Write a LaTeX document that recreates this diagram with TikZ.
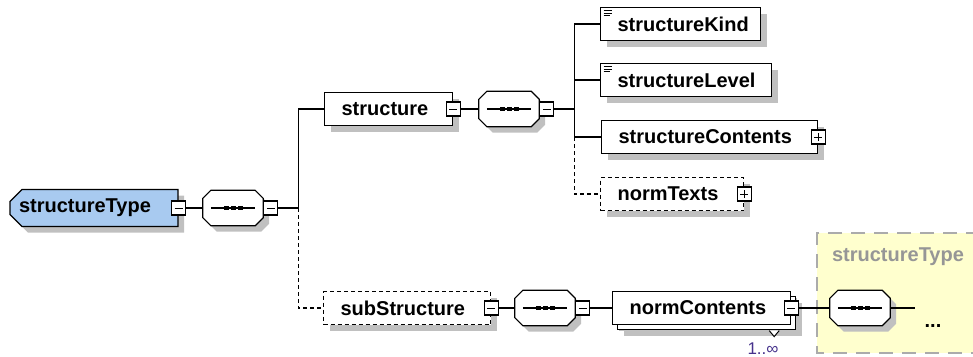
\documentclass[tikz,border=0pt]{standalone}
\usepackage{fontspec}
\setmainfont{Liberation Sans}
\usetikzlibrary{shapes.misc,shadows}

\definecolor{typeblue}{RGB}{168,202,240}
\definecolor{groupyellow}{RGB}{255,255,206}
\definecolor{shadowgray}{RGB}{192,192,192}
\definecolor{groupgray}{RGB}{150,150,150}
\definecolor{occurpurple}{RGB}{70,50,140}

\tikzset{
  boxshadow/.style={drop shadow={shadow xshift=6pt,shadow yshift=-6pt,fill=shadowgray,opacity=1}},
  elem/.style={boxshadow,draw,fill=white,line width=1.2pt,minimum height=33pt,
    inner xsep=17pt,inner ysep=0pt,align=left,anchor=west,
    font=\fontsize{20}{24}\selectfont\bfseries},
  optelem/.style={elem,dash pattern=on 4pt off 3pt},
  simpleicon/.style={path picture={
    \draw[line width=1pt] ([shift={(3pt,-3pt)}]path picture bounding box.north west) -- ++(8pt,0pt);
    \draw[line width=1pt] ([shift={(3pt,-5.5pt)}]path picture bounding box.north west) -- ++(8pt,0pt);
    \draw[line width=1pt] ([shift={(3pt,-8pt)}]path picture bounding box.north west) -- ++(6pt,0pt);}},
  seqbox/.style={rectangle,minimum width=60pt,minimum height=35pt,inner sep=0pt},
  minusbox/.style={draw,fill=white,line width=1.2pt,minimum size=14pt,inner sep=0pt,
    path picture={\draw[line width=1pt] ([xshift=3pt]path picture bounding box.west) -- ([xshift=-3pt]path picture bounding box.east);}},
  plusbox/.style={minusbox,
    path picture={\draw[line width=1pt] ([xshift=3pt]path picture bounding box.west) -- ([xshift=-3pt]path picture bounding box.east);
      \draw[line width=1pt] ([yshift=3pt]path picture bounding box.south) -- ([yshift=-3pt]path picture bounding box.north);}},
  conn/.style={line width=1.2pt},
  optconn/.style={line width=1.2pt,dash pattern=on 4pt off 3pt}
}

% octagon of a sequence compositor, drawn round a seqbox node
\newcommand\octagon[2]{%
  \path[#2] ([xshift=8pt]#1.north west) -- ([xshift=-8pt]#1.north east) -- ([yshift=-8pt]#1.north east)
    -- ([yshift=8pt]#1.south east) -- ([xshift=-8pt]#1.south east) -- ([xshift=8pt]#1.south west)
    -- ([yshift=8pt]#1.south west) -- ([yshift=-8pt]#1.north west) -- cycle;}
\newcommand\seqoct[1]{%
  \octagon{#1}{fill=shadowgray,transform canvas={shift={(6pt,-6pt)}}}
  \octagon{#1}{draw,fill=white,line width=1.2pt}
  \draw[line width=1.2pt] ([xshift=8pt]#1.west) -- ([xshift=-8pt]#1.east);
  \fill ([shift={(-9.5pt,-2pt)}]#1.center) rectangle ++(5pt,4pt);
  \fill ([shift={(-2.5pt,-2pt)}]#1.center) rectangle ++(5pt,4pt);
  \fill ([shift={(4.5pt,-2pt)}]#1.center) rectangle ++(5pt,4pt);}

\begin{document}
\begin{tikzpicture}[x=1pt,y=-1pt]
  \useasboundingbox (0,0) rectangle (973,356);

  % group of the referenced type
  \fill[groupyellow] (817,233) rectangle (980,353);
  \draw[groupgray!80,line width=1.2pt,dash pattern=on 14pt off 9pt] (980,233) -- (817,233) -- (817,353) -- (980,353);
  \node[text=groupgray,font=\fontsize{20}{24}\selectfont\bfseries] (grpLabel) at (898,257) {structureType};

  % root
  \node[boxshadow,chamfered rectangle,chamfered rectangle sep=6pt,
    chamfered rectangle corners={north west,south west},draw,fill=typeblue,line width=1.2pt,
    minimum width=168pt,minimum height=37pt,inner xsep=0pt,text width=150pt,align=left,
    font=\fontsize{20}{24}\selectfont\bfseries] (sType) at (94,208) {structureType};
  \node[minusbox] (sTypeM) at (sType.east) {};
  \node[seqbox] (seq1) at (233,208) {};
  \seqoct{seq1}
  \node[minusbox,anchor=west] (seq1M) at (seq1.east) {};

  % structure branch
  \node[elem,text width=94pt] (structure) at (324,109) {structure};
  \node[minusbox] (structM) at (structure.east) {};
  \node[seqbox] (seq2) at (509,109) {};
  \seqoct{seq2}
  \node[minusbox,anchor=west] (seq2M) at (seq2.east) {};

  \node[elem,simpleicon,text width=126pt] (sKind) at (600,24) {structureKind};
  \node[elem,simpleicon,text width=137pt] (sLevel) at (600,80) {structureLevel};
  \node[elem,text width=182pt] (sContents) at (601,137) {structureContents};
  \node[plusbox] (sContentsP) at (sContents.east) {};
  \node[optelem,text width=109pt] (normTexts) at (600,194) {normTexts};
  \node[plusbox] (normTextsP) at (normTexts.east) {};

  % subStructure branch
  \node[optelem,text width=133pt] (subStructure) at (323,308) {subStructure};
  \node[minusbox] (subStructM) at (subStructure.east) {};
  \node[seqbox] (seq3) at (545,308) {};
  \seqoct{seq3}
  \node[minusbox,anchor=west] (seq3M) at (seq3.east) {};
  \node[elem,text width=144pt,drop shadow={shadow xshift=11pt,shadow yshift=-11pt,fill=shadowgray,opacity=1},
    copy shadow={shadow xshift=5pt,shadow yshift=-5pt,fill=white,draw=black,opacity=1,line width=1.2pt}]
    (normContents) at (612,308) {normContents};
  \node[minusbox] (normContentsM) at (normContents.east) {};
  \draw[line width=1pt,fill=white] ([shift={(-22pt,-5.5pt)}]normContents.south east) -- ++(5pt,-6pt) -- ++(5pt,6pt);
  \node[text=occurpurple,font=\fontsize{17}{19}\selectfont,anchor=base] (ncOccur) at (763,354) {1..∞};

  \node[seqbox] (seq4) at (860,308) {};
  \seqoct{seq4}
  \node[font=\fontsize{20}{24}\selectfont\bfseries,anchor=base] (more) at (933,327) {...};

  % connectors
  \draw[conn] (sTypeM) -- (seq1);
  \path (seq1M.east) ++(20pt,0pt) coordinate (j1);
  \draw[conn] (seq1M) -- (j1) |- (structure);
  \draw[optconn] (j1) |- (subStructure);

  \draw[conn] (structM) -- (seq2);
  \path (seq2M.east) ++(20pt,0pt) coordinate (j2);
  \draw[conn] (seq2M) -- (j2);
  \draw[conn] (j2) |- (sKind);
  \draw[conn] (j2) |- (sLevel);
  \draw[conn] (j2) |- (sContents);
  \draw[optconn] (sContents.west -| j2) |- (normTexts);

  \draw[conn] (subStructM) -- (seq3);
  \draw[conn] (seq3M) -- (normContents);
  \draw[conn] (normContentsM) -- (seq4);
  \path (seq4.east) ++(25pt,0pt) coordinate (seq4end);
  \draw[conn] (seq4) -- (seq4end);
\end{tikzpicture}
\end{document}
